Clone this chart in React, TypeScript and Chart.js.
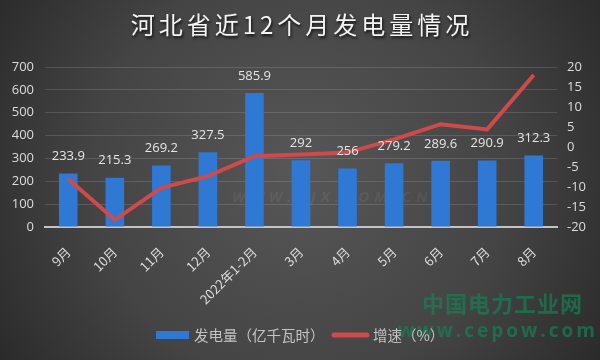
import React, { useEffect, useRef } from "react";
import { Chart, registerables } from "chart.js";

Chart.register(...registerables);

const categories = ["9月", "10月", "11月", "12月", "2022年1-2月", "3月", "4月", "5月", "6月", "7月", "8月"];
const generation = [233.9, 215.3, 269.2, 327.5, 585.9, 292, 256, 279.2, 289.6, 290.9, 312.3];
const growth = [-8.0, -18.2, -10.2, -7.3, -2.3, -1.9, -1.4, 1.9, 5.7, 4.4, 18.0];
const leftAxis = { min: 0, max: 700, step: 100 };
const rightAxis = { min: -20, max: 20, step: 5 };
const titleText = "河北省近12个月发电量情况";
const legendLabels = ["发电量（亿千瓦时）", "增速（%）"];
const watermarkLines = ["中国电力工业网", "www.cepow.com"];
const faintMark = "WWW.BJX.COM.CN";

const BAR_COLOR = "#2F78D4";
const LINE_COLOR = "#CF4A4A";
const TEXT_COLOR = "#dcdcdc";
const CJK = "'Noto Sans CJK SC', 'Noto Sans', sans-serif";
const NUM = "'Open Sans', 'Noto Sans', sans-serif";

const backgroundPlugin = {
  id: "bg",
  beforeDraw(chart: any) {
    const { ctx, width, height } = chart;
    ctx.save();
    const g = ctx.createRadialGradient(300, 175, 0, 300, 175, 380);
    g.addColorStop(0, "#575757");
    g.addColorStop(0.55, "#444444");
    g.addColorStop(1, "#262626");
    ctx.fillStyle = g;
    ctx.fillRect(0, 0, width, height);
    // faint watermark behind bars
    ctx.font = `bold italic 15px ${NUM}`;
    (ctx as any).letterSpacing = "5px";
    ctx.fillStyle = "rgba(255,255,255,0.06)";
    ctx.textAlign = "left";
    ctx.textBaseline = "middle";
    ctx.fillText(faintMark, 232, 198);
    ctx.restore();
  },
};

const overlayPlugin = {
  id: "overlay",
  afterDatasetsDraw(chart: any) {
    const { ctx } = chart;
    const meta = chart.getDatasetMeta(0);
    ctx.save();
    ctx.font = `13px ${NUM}`;
    ctx.fillStyle = "#e6e6e6";
    ctx.textAlign = "center";
    ctx.textBaseline = "middle";
    meta.data.forEach((bar: any, i: number) => {
      ctx.fillText(String(generation[i]), bar.x, bar.y - 17);
    });
    ctx.restore();
  },
  afterDraw(chart: any) {
    const { ctx } = chart;
    ctx.save();
    // title
    ctx.font = `400 24px ${CJK}`;
    (ctx as any).letterSpacing = "4px";
    ctx.textAlign = "center";
    ctx.textBaseline = "middle";
    ctx.shadowColor = "rgba(0,0,0,0.8)";
    ctx.shadowOffsetX = 1;
    ctx.shadowOffsetY = 2;
    ctx.shadowBlur = 3;
    ctx.fillStyle = "#f4f4f4";
    ctx.fillText(titleText, 302, 25);
    ctx.shadowColor = "transparent";
    (ctx as any).letterSpacing = "0px";

    // watermark
    ctx.fillStyle = "rgba(20,128,84,0.7)";
    ctx.font = `bold 22px ${CJK}`;
    (ctx as any).letterSpacing = "1px";
    ctx.textAlign = "left";
    ctx.fillText(watermarkLines[0], 422, 304);
    ctx.font = `bold 19px ${NUM}`;
    (ctx as any).letterSpacing = "3px";
    ctx.fillText(watermarkLines[1], 398, 332);
    (ctx as any).letterSpacing = "0px";

    // legend
    ctx.fillStyle = BAR_COLOR;
    ctx.fillRect(156, 331, 33, 8);
    ctx.font = `14.5px ${CJK}`;
    ctx.fillStyle = "#c4c4c4";
    ctx.textBaseline = "middle";
    ctx.fillText(legendLabels[0], 194, 335);
    ctx.strokeStyle = LINE_COLOR;
    ctx.lineWidth = 5;
    ctx.lineCap = "round";
    ctx.beginPath();
    ctx.moveTo(334, 335);
    ctx.lineTo(367, 335);
    ctx.stroke();
    ctx.fillText(legendLabels[1], 373, 335);
    ctx.restore();
  },
};

export default function App() {
  const ref = useRef<HTMLCanvasElement | null>(null);
  useEffect(() => {
    if (!ref.current) return;
    const chart = new Chart(ref.current, {
      type: "bar",
      data: {
        labels: categories,
        datasets: [
          {
            type: "bar",
            label: legendLabels[0],
            data: generation,
            backgroundColor: BAR_COLOR,
            yAxisID: "y",
            barPercentage: 0.4,
            categoryPercentage: 1,
            order: 1,
          },
          {
            type: "line",
            label: legendLabels[1],
            data: growth,
            borderColor: LINE_COLOR,
            backgroundColor: LINE_COLOR,
            borderWidth: 4,
            pointRadius: 0,
            tension: 0,
            yAxisID: "y1",
            order: 0,
          } as any,
        ],
      },
      options: {
        responsive: false,
        animation: false,
        layout: { padding: { top: 67, left: 0, right: 0, bottom: 0 } },
        plugins: {
          legend: { display: false },
          title: { display: false },
          tooltip: { enabled: false },
        },
        scales: {
          x: {
            grid: { display: false },
            border: { color: "#c4c4c4", width: 2 },
            ticks: {
              color: TEXT_COLOR,
              font: { family: CJK, size: 13 },
              minRotation: 45,
              maxRotation: 45,
              autoSkip: false,
              padding: 9,
            },
            afterFit(scale: any) {
              scale.height = 133;
            },
          },
          y: {
            position: "left",
            min: leftAxis.min,
            max: leftAxis.max,
            ticks: {
              stepSize: leftAxis.step,
              color: TEXT_COLOR,
              font: { family: NUM, size: 13 },
              padding: 11,
            },
            grid: { color: "rgba(255,255,255,0.13)", drawTicks: false, lineWidth: 1 },
            border: { display: false },
            afterFit(scale: any) {
              scale.width = 45;
            },
          },
          y1: {
            position: "right",
            min: rightAxis.min,
            max: rightAxis.max,
            ticks: {
              stepSize: rightAxis.step,
              color: TEXT_COLOR,
              font: { family: NUM, size: 13 },
              padding: 10,
            },
            grid: { display: false, drawTicks: false },
            border: { display: false },
            afterFit(scale: any) {
              scale.width = 43;
            },
          },
        },
      },
      plugins: [backgroundPlugin, overlayPlugin],
    });
    return () => chart.destroy();
  }, []);
  return (
    <div style={{ position: "fixed", left: 0, top: 0, width: 600, height: 360 }}>
      <canvas ref={ref} width={600} height={360} style={{ width: 600, height: 360, display: "block" }} />
    </div>
  );
}
